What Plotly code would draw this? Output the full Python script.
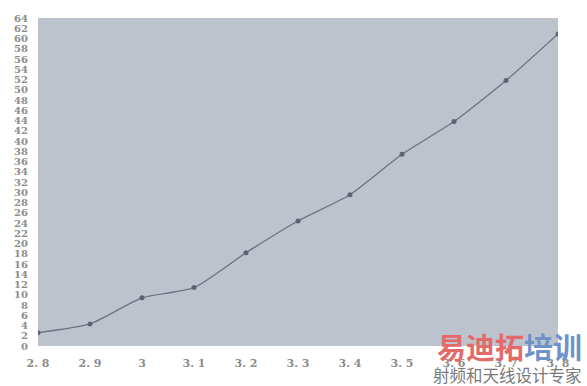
import plotly.graph_objects as go

x_vals = [2.8, 2.9, 3.0, 3.1, 3.2, 3.3, 3.4, 3.5, 3.6, 3.7, 3.8]
y_vals = [2.6, 4.3, 9.4, 11.4, 18.2, 24.4, 29.5, 37.4, 43.8, 51.8, 60.9]
x_tick_vals = [2.8, 2.9, 3.0, 3.1, 3.2, 3.3, 3.4, 3.5, 3.6, 3.7, 3.8]
x_tick_text = ["2. 8", "2. 9", "3", "3. 1", "3. 2", "3. 3", "3. 4", "3. 5", "3. 6", "3. 7", "3. 8"]
y_tick_vals = list(range(0, 65, 2))

fig = go.Figure()
fig.add_trace(go.Scatter(
    x=x_vals, y=y_vals, mode="lines+markers",
    line=dict(color="#6b7282", width=1.3, shape="spline", smoothing=0.6),
    marker=dict(color="#5d6373", size=5, symbol="circle"),
    showlegend=False,
))

font_family = "DejaVu Serif"
fig.update_layout(
    width=587, height=386,
    margin=dict(l=38, r=29, t=13, b=40),
    paper_bgcolor="white",
    plot_bgcolor="#bdc3cd",
    font=dict(family=font_family, color="#8c8c8c", size=10),
    xaxis=dict(range=[2.8, 3.8], tickvals=x_tick_vals, ticktext=x_tick_text,
               showgrid=False, zeroline=False, showline=False, ticks="",
               tickfont=dict(family=font_family, size=11, color="#8c8c8c", weight="bold"),
               ticklabelstandoff=9),
    yaxis=dict(range=[0, 64], tickvals=y_tick_vals,
               showgrid=False, zeroline=False, showline=False, ticks="",
               tickfont=dict(family=font_family, size=10, color="#8c8c8c", weight="bold"),
               ticklabelstandoff=9),
)

fig.add_annotation(x=1.0, y=0.0, xref="paper", yref="paper", xanchor="right", yanchor="middle",
                   yshift=0, xshift=26, showarrow=False,
                   text="<span style='color:#e46a6a'>易迪拓</span><span style='color:#6f93c9'>培训</span>",
                   font=dict(family="Noto Sans CJK SC", size=29, weight="bold"))
fig.add_annotation(x=1.0, y=0.0, xref="paper", yref="paper", xanchor="right", yanchor="middle",
                   yshift=-29, xshift=26, showarrow=False,
                   text="射频和天线设计专家",
                   font=dict(family="Noto Sans CJK SC", size=16.5, color="#7a7a7a"))

fig.write_html("out.html")
